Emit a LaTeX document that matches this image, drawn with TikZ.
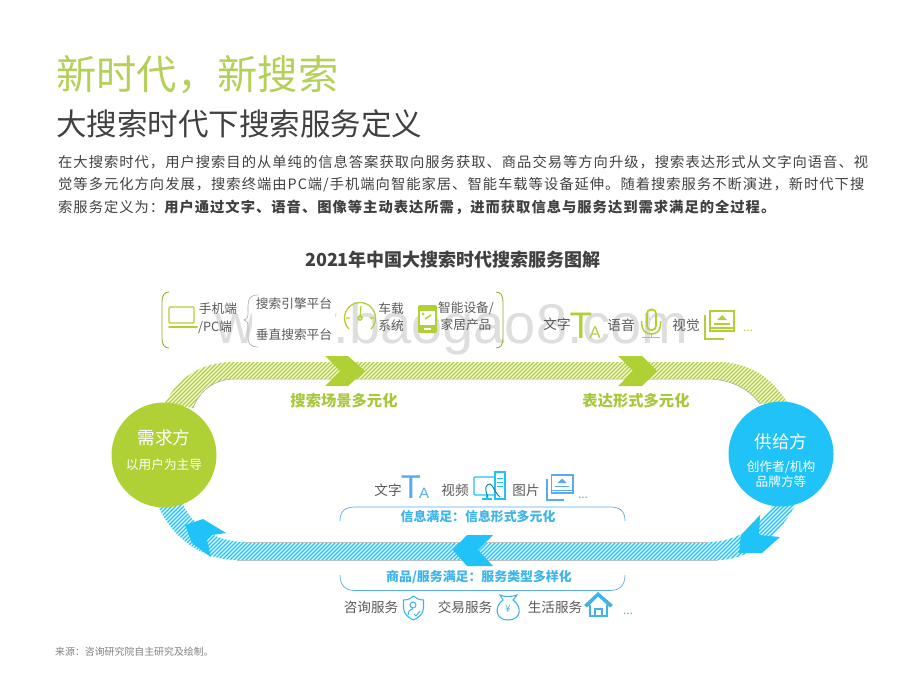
\documentclass[tikz,border=0pt]{standalone}
\usepackage{fontspec}
\setmainfont{Noto Sans CJK SC}
\newfontfamily\latinf{Liberation Sans}
\newfontfamily\bodyf[LetterSpace=7]{Noto Sans CJK SC}
\usetikzlibrary{calc}
\definecolor{gr}{HTML}{B0D136}
\definecolor{grt}{HTML}{A6C93C}
\definecolor{bl}{HTML}{1FC3F7}
\definecolor{blt}{HTML}{3FB4EA}
\definecolor{bli}{HTML}{5AAAF0}
\definecolor{txt}{HTML}{404040}
\definecolor{lab}{HTML}{595959}
\newcommand{\myfs}[1]{\fontsize{#1}{#1}\selectfont}
\newcommand{\hatchband}[4]{%
  \fill[#1!10] #4;
  \begin{scope}
    \clip #4;
    \foreach \hx in {-100,-96,...,860} {\draw[#1,line width=1.25pt] (\hx,#3) -- ({\hx+#3-#2},#2);}
  \end{scope}}
\newcommand{\picicon}[4]{%
  \begin{scope}[shift={(#1,#2)},scale=#3]
    \draw[#4,line width=1.7pt] (6,1) rectangle (30,21);
    \draw[#4,line width=2.4pt] (1.2,5) -- (1.2,28.8) -- (20,28.8);
    \fill[#4] (13,10) -- (18,5) -- (23,10) -- cycle;
    \draw[#4,line width=1.5pt] (10,14) -- (26,14);
    \draw[#4,line width=1.2pt] (6,18) -- (30,18);
  \end{scope}}
\tikzset{
  lbl/.style={text=lab,inner sep=0pt,font={\myfs{12.7}}},
  lblb/.style={text=lab,inner sep=0pt,font={\myfs{13.6}}},
  arch/.style={draw=#1,line width=0.7pt},
  chev/.style={fill=#1,draw=none},
  edge line/.style={draw=gray!70,line width=0.5pt},
  party/.style={circle,fill=#1,minimum size=105pt,inner sep=0pt},
  wht/.style={text=white,inner sep=0pt},
  dots/.style={inner sep=0pt,font={\myfs{12}}},
  tt/.style={anchor=base,inner sep=0pt,font={\latinf\myfs{37}}},
  ta/.style={anchor=base,inner sep=0pt,font={\latinf\myfs{17}}},
  flow/.style={inner sep=0pt,text=grt,font={\bfseries\myfs{15.3}}},
  sat/.style={inner sep=0pt,text=blt,font={\bfseries\myfs{12.9}}},
  bodyline/.style={anchor=west,inner sep=0pt,text=txt,font={\bodyf\myfs{14.3}}}
}
\begin{document}
\begin{tikzpicture}[x=1pt,y=-1pt]
\useasboundingbox (0,0) rectangle (920,690);
% watermark
\node[anchor=base,inner sep=0pt,text=black!13,font={\latinf\myfs{56}}] (wm) at (452,343) {www.baogao8.com};
% headings
\node[anchor=west,inner sep=0pt,text=grt!85!white,font={\myfs{40.3}}] (title) at (56,75) {新时代，新搜索};
\node[anchor=west,inner sep=0pt,text=txt,font={\myfs{30.5}}] (sub) at (56,124) {大搜索时代下搜索服务定义};
\node[bodyline] (b1) at (58,162) {在大搜索时代，用户搜索目的从单纯的信息答案获取向服务获取、商品交易等方向升级，搜索表达形式从文字向语音、视};
\node[bodyline] (b2) at (58,185) {觉等多元化方向发展，搜索终端由PC端/手机端向智能家居、智能车载等设备延伸。随着搜索服务不断演进，新时代下搜};
\node[bodyline] (b3) at (58,207) {索服务定义为：{\bfseries 用户通过文字、语音、图像等主动表达所需，进而获取信息与服务达到需求满足的全过程。}};
\node[inner sep=0pt,text=txt,font={\bfseries\myfs{18}}] (head) at (453,260) {2021年中国大搜索时代搜索服务图解};
\node[anchor=west,inner sep=0pt,text=black!50,font={\myfs{9.9}}] (src) at (55,652) {来源：咨询研究院自主研究及绘制。};
% bands
\hatchband{gr}{350}{420}{(165,403) .. controls (178,378) and (200,362) .. (235,362) -- (717,362) .. controls (750,362) and (772,378) .. (787,402) -- (760,404) .. controls (748,388) and (730,379) .. (707,379) -- (235,379) .. controls (215,379) and (200,390) .. (193,408) -- cycle}
\draw[edge line] (193,408) .. controls (200,390) and (215,379) .. (235,379) -- (707,379) .. controls (730,379) and (748,388) .. (760,404);
\hatchband{bl}{495}{570}{(158,505) .. controls (170,535) and (200,560) .. (237,560) -- (718,560) .. controls (750,560) and (780,535) .. (795,505) -- (773,505) .. controls (760,525) and (738,542) .. (708,542) -- (245,542) .. controls (220,542) and (195,530) .. (182,503) -- cycle}
\draw[gray!50,line width=0.4pt] (245,542) -- (708,542) (237,560) -- (718,560);
% chevrons
\fill[chev=gr] (325,356) -- (348,356) -- (365,371) -- (348,386) -- (325,386) -- (340,371) -- cycle;
\fill[chev=gr] (618,356) -- (642,356) -- (657,371) -- (642,386) -- (618,386) -- (633,371) -- cycle;
\fill[chev=bl] (493,535) -- (467,535) -- (453,550) -- (467,566) -- (493,566) -- (478,550) -- cycle;
\fill[chev=bl] (185,525) -- (203,519) -- (226,533) -- (212,535) -- (207,540) -- (211,557) -- (192,543) -- cycle;
\fill[chev=bl] (760,515) -- (759,535) -- (780,537) -- (762,553) -- (739,553) -- (741,535) -- cycle;
% parties
\node[party=gr] (need) at (164,455) {};
\node[party=bl] (supply) at (781,454) {};
\node[wht,font={\myfs{17.6}}] (need1) at (164,438) {需求方};
\node[wht,font={\myfs{12.7}}] (need2) at (164,465) {以用户为主导};
\node[wht,font={\myfs{17.6}}] (sup1) at (781,442) {供给方};
\node[wht,font={\myfs{12.7}}] (sup2) at (781,467) {创作者/机构};
\node[wht,font={\myfs{12.7}}] (sup3) at (781,482) {品牌方等};
\node[flow] (f1) at (344,401) {搜索场景多元化};
\node[flow] (f2) at (636,401) {表达形式多元化};
% top left group
\draw[gr!80!black,line width=0.8pt] (169,292) .. controls (164,292) and (162,296) .. (162,302) -- (162,338) .. controls (162,344) and (164,348) .. (169,348);
\draw[gr!80!black,line width=0.8pt] (496,292) .. controls (501,292) and (503,296) .. (503,302) -- (503,338) .. controls (503,344) and (501,348) .. (496,348);
\fill[white] (252,291) rectangle (335,348);
\draw[gray!70,line width=0.6pt] (258,295) .. controls (250,295) and (248,299) .. (248,306) -- (248,314) .. controls (248,318) and (246,320) .. (244,320) .. controls (246,320) and (248,322) .. (248,326) -- (248,337) .. controls (248,343) and (250,347) .. (258,347);
\draw[gr,line width=1.2pt,rounded corners=1pt] (169,307) rectangle (194,323);
\draw[gr,line width=2pt,line cap=round] (169,326.5) -- (197,326.5);
\node[lbl] (a1) at (218,309) {手机端};
\node[lbl] (a2) at (215,327) {/PC端};
\node[lbl] (a3) at (294,304) {搜索引擎平台};
\node[lbl] (a4) at (294,335) {垂直搜索平台};
\draw[gr,line width=1.3pt] (349,329) arc[start angle=135,end angle=405,radius=15.5];
\draw[gr,line width=1.2pt] (360,318) -- (361,306) (350,318) -- (346,318) (370,318) -- (374,318);
\draw[gr,line width=1.2pt] (360,318) circle (2.2);
\node[lbl] (a5) at (391,309) {车载};
\node[lbl] (a6) at (391,326) {系统};
\fill[gr,rounded corners=2pt] (418,305) rectangle (437,333);
\fill[white] (420,311) rectangle (435,325);
\draw[gr,line width=1.5pt] (425,319) -- (431,315);
\fill[gr] (423,314) circle (1.5);
\fill[white] (424,328) rectangle (431,330);
\node[lbl] (a7) at (466,308) {智能设备/};
\node[lbl] (a8) at (466,325) {家居产品};
% top right group
\node[lblb] (e1) at (557,324) {文字};
\node[tt,text=gr] (e1t) at (581,338) {T};
\node[ta,text=gr] (e1a) at (595,338) {A};
\node[lblb] (e2) at (621,325) {语音};
\draw[gr,line width=1.8pt,rounded corners=4pt] (647,309.5) rectangle (656,330);
\draw[gr,line width=1.5pt] (641.5,321) .. controls (641.5,331) and (646,334) .. (651.5,334) .. controls (657,334) and (661,331) .. (660.5,321);
\draw[gr,line width=1.5pt] (651.5,334) -- (651.5,337) (642,337.5) -- (660,337.5);
\node[lblb] (e3) at (686,325) {视觉};
\picicon{704}{310}{1}{gr}
\node[dots,text=gr] (e4) at (748,331) {...};
% information row
\node[lblb] (i1) at (388,490) {文字};
\node[tt,text=bli,font={\latinf\myfs{33}}] (i1t) at (411,498) {T};
\node[ta,text=bli,font={\latinf\myfs{15}}] (i1a) at (424,498) {A};
\node[lblb] (i2) at (455,490) {视频};
\draw[bl,line width=1.1pt,rounded corners=1pt] (474,477) rectangle (498,495);
\draw[bl,line width=1.1pt] (482,499) -- (492,499) (487,495) -- (487,499);
\draw[bl,line width=1.1pt,fill=white] (495,472) rectangle (505,499);
\draw[bl,line width=1pt] (497,478) -- (503,478) (497,482) -- (503,482) (497,486) -- (503,486);
\draw[bl!70!black,line width=1pt] (488,497) .. controls (484,488) and (486,484) .. (490,484) .. controls (494,486) and (494,492) .. (500,497);
\node[lblb] (i3) at (526,490) {图片};
\picicon{546}{474}{0.9}{bli}
\node[dots,text=bli] (i4) at (583,498) {...};
\draw[arch=bli] (340,521) .. controls (340,511) and (345,507) .. (355,507) -- (610,507) .. controls (620,507) and (625,511) .. (625,521);
\node[sat] (i5) at (478,517) {信息满足：信息形式多元化};
% service row
\draw[arch=bli] (340,575) .. controls (340,585) and (345,590.5) .. (355,590.5) -- (610,590.5) .. controls (620,590.5) and (625,585) .. (625,575);
\node[sat] (s0) at (479,577) {商品/服务满足：服务类型多样化};
\node[lblb] (s1) at (371,607) {咨询服务};
\draw[blt,line width=1.1pt] (403.5,600) .. controls (409,600) and (411,598) .. (413.5,596) .. controls (416,598) and (418,600) .. (423.5,600) -- (423.5,608) .. controls (423.5,614) and (418,618) .. (413.5,620) .. controls (409,618) and (403.5,614) .. (403.5,608) -- cycle;
\draw[blt,line width=1pt] (413,605) circle (3) (408,615) .. controls (408,610) and (412,609) .. (413,609) (414,614) -- (416,616) -- (420,611);
\node[lblb] (s2) at (465,607) {交易服务};
\draw[blt,line width=1.1pt] (503,600) -- (500,595) .. controls (505,597) and (511,597) .. (517,595) -- (513,600) .. controls (522,606) and (522,620) .. (508,620) .. controls (495,620) and (494,606) .. (503,600) -- cycle;
\node[inner sep=0pt,text=blt,font={\myfs{10}}] (s2y) at (508,609) {¥};
\node[lblb] (s3) at (555,607) {生活服务};
\fill[blt] (584,605) -- (598,592) -- (613,605) -- (610,607.5) -- (598,596.5) -- (587,607.5) -- cycle;
\draw[blt,line width=2pt] (590,605) -- (590,616) -- (607,616) -- (607,605);
\draw[blt,line width=1.8pt] (595,616) -- (595,609) -- (602,609) -- (602,616);
\node[dots,text=bli] (s4) at (628,614) {...};
\end{tikzpicture}
\end{document}
